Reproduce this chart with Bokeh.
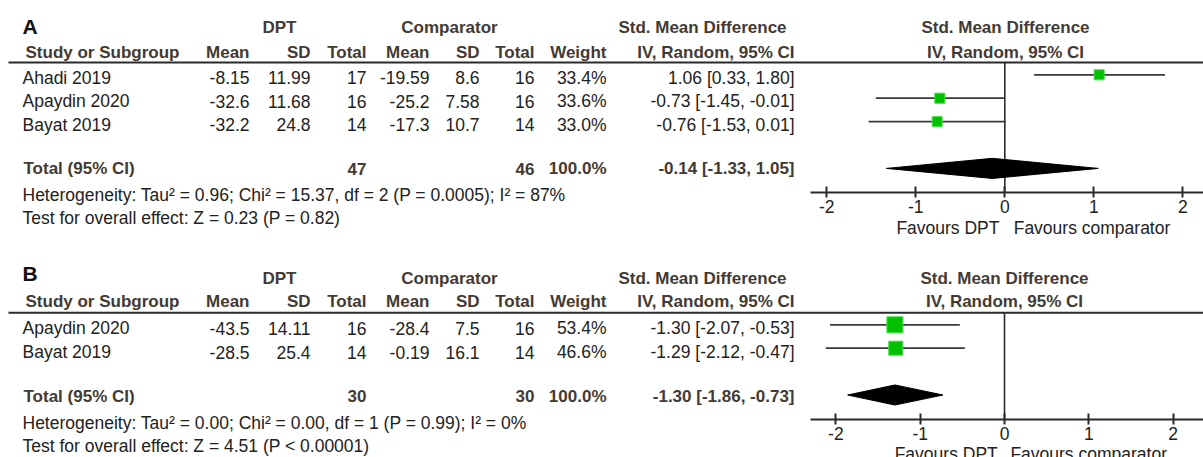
from bokeh.plotting import figure
from bokeh.models import Range1d, FixedTicker, LinearAxis, ColumnDataSource
from bokeh.core.properties import value
from bokeh.embed import file_html
from bokeh.resources import INLINE

# ---------------- data: panel A ----------------
studies_a = ["Ahadi 2019", "Apaydin 2020", "Bayat 2019"]
dpt_mean_a = [-8.15, -32.6, -32.2]
dpt_sd_a = [11.99, 11.68, 24.8]
dpt_n_a = [17, 16, 14]
cmp_mean_a = [-19.59, -25.2, -17.3]
cmp_sd_a = [8.6, 7.58, 10.7]
cmp_n_a = [16, 16, 14]
weight_a = [33.4, 33.6, 33.0]
smd_a = [1.06, -0.73, -0.76]
lo_a = [0.33, -1.45, -1.53]
hi_a = [1.80, -0.01, 0.01]
total_a = dict(n_dpt=47, n_cmp=46, smd=-0.14, lo=-1.33, hi=1.05)
het_a = "Heterogeneity: Tau² = 0.96; Chi² = 15.37, df = 2 (P = 0.0005); I² = 87%"
test_a = "Test for overall effect: Z = 0.23 (P = 0.82)"

# ---------------- data: panel B ----------------
studies_b = ["Apaydin 2020", "Bayat 2019"]
dpt_mean_b = [-43.5, -28.5]
dpt_sd_b = [14.11, 25.4]
dpt_n_b = [16, 14]
cmp_mean_b = [-28.4, -0.19]
cmp_sd_b = [7.5, 16.1]
cmp_n_b = [16, 14]
weight_b = [53.4, 46.6]
smd_b = [-1.30, -1.29]
lo_b = [-2.07, -2.12]
hi_b = [-0.53, -0.47]
total_b = dict(n_dpt=30, n_cmp=30, smd=-1.30, lo=-1.86, hi=-0.73)
het_b = "Heterogeneity: Tau² = 0.00; Chi² = 0.00, df = 1 (P = 0.99); I² = 0%"
test_b = "Test for overall effect: Z = 4.51 (P < 0.00001)"

axis_ticks = [-2, -1, 0, 1, 2]

W, H = 1203, 457
FONT = "Liberation Sans"
TXT = "#222222"
HDR = "#433a34"
REG = "17.5px"
BLD = "17px"
LINE = "#2a2a2a"
FOREST_LEFT = 810          # left end of the forest-plot axis
ROW_PX = 23.4              # vertical distance between study rows

# right edges of the numeric columns in the table
COLS = [249, 310, 366, 429, 479, 534, 606, 794]
HEADS = ["Mean", "SD", "Total", "Mean", "SD", "Total", "Weight", "IV, Random, 95% CI"]

# the whole page is one canvas measured in pixels from the top-left corner
p = figure(width=W, height=H, x_range=Range1d(0, W), y_range=Range1d(H, 0),
           output_backend="svg", toolbar_location=None,
           x_axis_location=None, y_axis_location=None, min_border=0)
p.outline_line_color = None
p.xgrid.visible = False
p.ygrid.visible = False


def ci_text(est, lo, hi):
    return f"{est:.2f} [{lo:.2f}, {hi:.2f}]"


def put(xs, ys, texts, align="left", bold=False, size=None, color=None, **rng):
    src = ColumnDataSource(dict(x=xs, y=ys, t=texts))
    p.text(x="x", y="y", text="t", source=src, text_align=align,
           text_baseline="middle", text_font=value(FONT),
           text_font_size=size or (BLD if bold else REG),
           text_font_style="bold" if bold else "normal",
           text_color=color or (HDR if bold else TXT), **rng)


def table(letter, top, lay, studies, dm, dsd, dn, cm, csd, cn, w,
          est, lo, hi, tot, het, test):
    Y = lambda v: top + v
    put([22], [Y(lay["letter"])], [letter], bold=True, size="21px", color="#111111")
    put([279, 449, 702, lay["forest_mid"]], [Y(lay["group"])] * 4,
        ["DPT", "Comparator", "Std. Mean Difference", "Std. Mean Difference"],
        align="center", bold=True)
    put([lay["forest_mid"]], [Y(lay["head"])], ["IV, Random, 95% CI"],
        align="center", bold=True)
    put([25], [Y(lay["head"])], ["Study or Subgroup"], bold=True)
    put(COLS, [Y(lay["head"])] * len(COLS), HEADS, align="right", bold=True)
    p.segment(x0=[8], x1=[W], y0=[Y(lay["line"])], y1=[Y(lay["line"])],
              line_color=LINE, line_width=2)

    ys = [Y(v) for v in lay["rows"]]
    put([22] * len(studies), ys, studies)
    columns = [
        [str(v) for v in dm], [str(v) for v in dsd], [str(v) for v in dn],
        [str(v) for v in cm], [str(v) for v in csd], [str(v) for v in cn],
        [f"{v:.1f}%" for v in w],
        [ci_text(e, l, h) for e, l, h in zip(est, lo, hi)],
    ]
    for xr, vals in zip(COLS, columns):
        put([xr] * len(vals), ys, vals, align="right")

    ty = Y(lay["total"])
    put([23], [ty], ["Total (95% CI)"], bold=True)
    put([COLS[2], COLS[5], COLS[6], COLS[7]], [ty] * 4,
        [str(tot["n_dpt"]), str(tot["n_cmp"]), "100.0%",
         ci_text(tot["smd"], tot["lo"], tot["hi"])], align="right", bold=True)
    put([22, 22], [Y(lay["het"]), Y(lay["test"])], [het, test])


def forest(name, fl, est, lo, hi, w, tot):
    xr, yr = "smd_" + name, "row_" + name
    # effect-size scale across the canvas, study rows down the canvas
    p.extra_x_ranges[xr] = Range1d(-fl["zero_px"] / fl["unit_px"],
                                   (W - fl["zero_px"]) / fl["unit_px"])
    p.extra_y_ranges[yr] = Range1d((H - fl["row0_px"]) / ROW_PX,
                                   -fl["row0_px"] / ROW_PX)
    rng = dict(x_range_name=xr, y_range_name=yr)
    x_left = (FOREST_LEFT - fl["zero_px"]) / fl["unit_px"]
    x_right = (W - fl["zero_px"]) / fl["unit_px"]

    ax = LinearAxis(x_range_name=xr, fixed_location=fl["axis_px"],
                    bounds=(x_left, x_right))
    ax.ticker = FixedTicker(ticks=axis_ticks)
    ax.major_label_overrides = {t: str(t) for t in axis_ticks}
    ax.minor_tick_line_color = None
    ax.major_tick_in = 6
    ax.major_tick_out = 5
    ax.axis_line_width = 2
    ax.axis_line_color = LINE
    ax.major_tick_line_width = 2
    ax.major_tick_line_color = LINE
    ax.major_label_standoff = 2
    ax.major_label_text_font = FONT
    ax.major_label_text_font_size = REG
    ax.major_label_text_color = TXT
    p.add_layout(ax, "below")

    axis_row = (fl["axis_px"] - fl["row0_px"]) / ROW_PX
    # line of no effect, from the heading rule down to the axis
    p.segment(x0=[0], x1=[0], y0=[fl["line_row"]], y1=[axis_row],
              line_color=LINE, line_width=1.6, **rng)

    rows = list(range(len(est)))
    p.segment(x0=lo, x1=hi, y0=rows, y1=rows, line_color="#3a3a3a",
              line_width=1.8, **rng)
    p.scatter(x=est, y=rows, marker="square", size=[v * 0.3 for v in w],
              fill_color="#00c000", line_color="#3fe03f", line_width=1, **rng)

    # pooled estimate diamond
    tr = len(est) + 1
    h = 0.43
    p.patch(x=[tot["lo"], tot["smd"], tot["hi"], tot["smd"]],
            y=[tr, tr - h, tr, tr + h], fill_color="black", line_color="black",
            line_width=1, **rng)

    fav_row = axis_row + fl["fav_gap"]
    put([fl["fav_left"]], [fav_row], ["Favours DPT"], align="right", **rng)
    put([fl["fav_right"]], [fav_row], ["Favours comparator"], align="left", **rng)


lay_a = dict(letter=26, group=27, head=52, line=62, rows=[77, 100.5, 124],
             total=168, het=194, test=217, forest_mid=1005)
lay_b = dict(letter=33, group=38, head=61, line=72.3, rows=[87.7, 111.7],
             total=155.7, het=182, test=205.7, forest_mid=1004)

fl_a = dict(zero_px=1004.3, unit_px=89.0, row0_px=74.3, axis_px=192,
            line_row=(62 - 74.3) / ROW_PX, fav_gap=35 / ROW_PX,
            fav_left=-0.06, fav_right=0.10)
fl_b = dict(zero_px=1004.0, unit_px=84.3, row0_px=324.3, axis_px=419,
            line_row=(312.3 - 324.3) / ROW_PX, fav_gap=34 / ROW_PX,
            fav_left=-0.08, fav_right=0.07)

table("A", 0, lay_a, studies_a, dpt_mean_a, dpt_sd_a, dpt_n_a,
      cmp_mean_a, cmp_sd_a, cmp_n_a, weight_a, smd_a, lo_a, hi_a,
      total_a, het_a, test_a)
forest("a", fl_a, smd_a, lo_a, hi_a, weight_a, total_a)
table("B", 240, lay_b, studies_b, dpt_mean_b, dpt_sd_b, dpt_n_b,
      cmp_mean_b, cmp_sd_b, cmp_n_b, weight_b, smd_b, lo_b, hi_b,
      total_b, het_b, test_b)
forest("b", fl_b, smd_b, lo_b, hi_b, weight_b, total_b)

open("out.html", "w").write(file_html(p, INLINE))
